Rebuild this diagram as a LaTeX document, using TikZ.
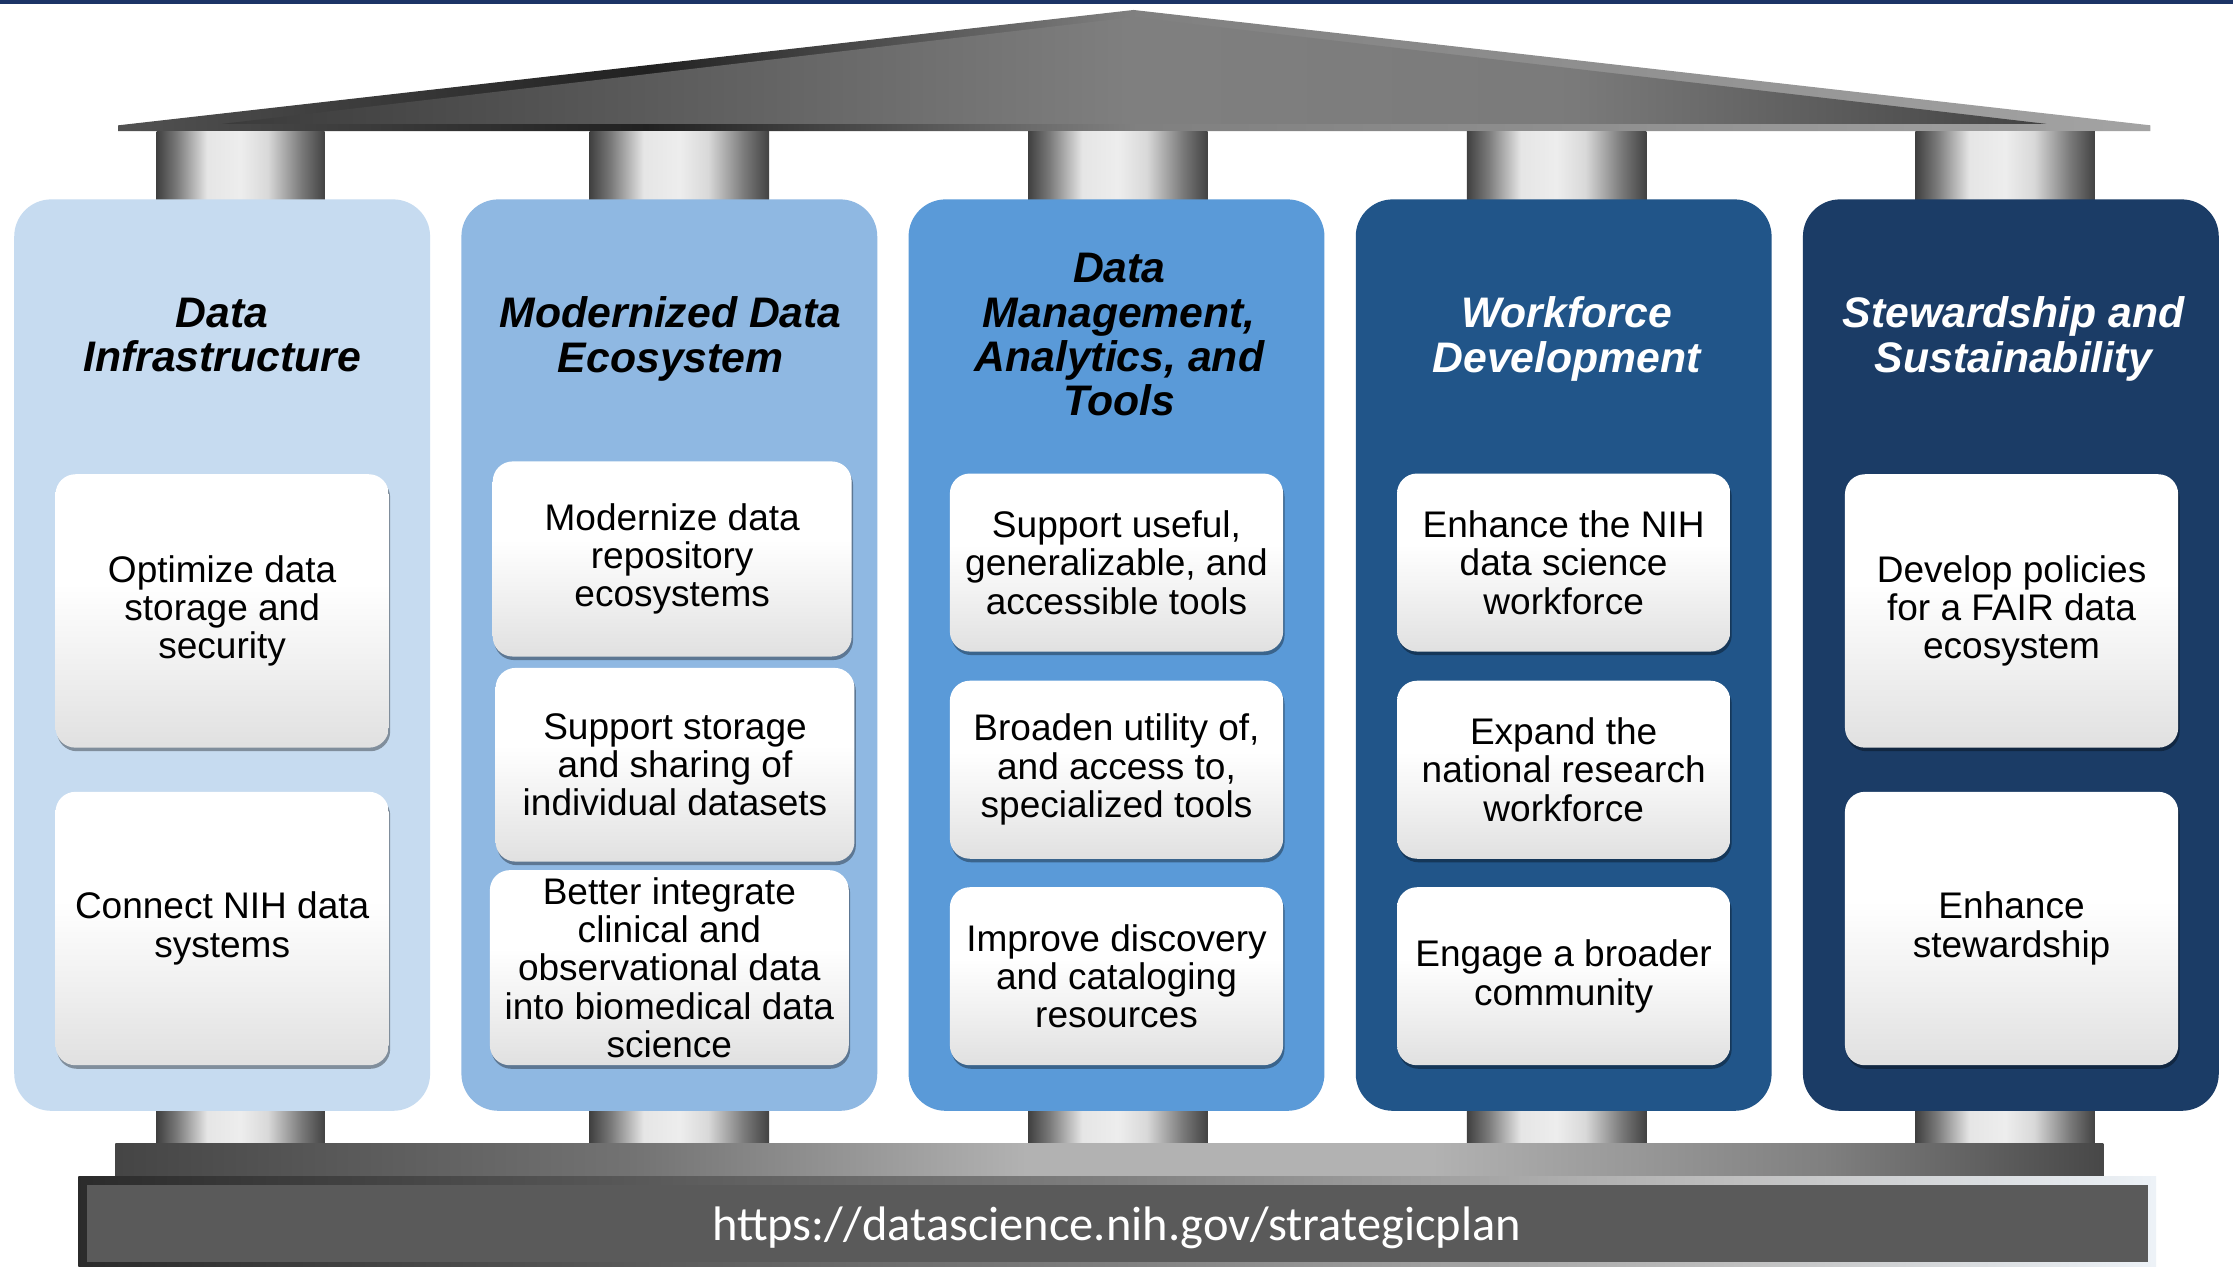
\documentclass[tikz,border=0pt]{standalone}
\usepackage{fontspec}
\setmainfont{Liberation Sans}
\newfontfamily\urlfont{Carlito}
\usetikzlibrary{shadows}

\definecolor{panelA}{HTML}{C6DBF0}
\definecolor{panelB}{HTML}{8FB8E2}
\definecolor{panelC}{HTML}{5A9AD8}
\definecolor{panelD}{HTML}{215589}
\definecolor{panelE}{HTML}{1B3C66}
\definecolor{navy}{HTML}{1C3466}
\definecolor{basefill}{HTML}{5A5A5A}

% column shaft: dark edges, bright highlight left of centre
\pgfdeclarehorizontalshading{pillarshade}{100bp}{
  gray(0bp)=(0.25); gray(25bp)=(0.25); gray(31bp)=(0.48); gray(40bp)=(0.9);
  gray(50bp)=(0.93); gray(58bp)=(0.85); gray(68bp)=(0.48); gray(75bp)=(0.26); gray(100bp)=(0.26)}
% roof rim and inner gable face
\pgfdeclarehorizontalshading{roofrim}{100bp}{
  gray(0bp)=(0.32); gray(25bp)=(0.32); gray(38bp)=(0.13); gray(50bp)=(0.5);
  gray(75bp)=(0.64); gray(100bp)=(0.64)}
\pgfdeclarehorizontalshading{roofface}{100bp}{
  gray(0bp)=(0.23); gray(25bp)=(0.23); gray(50bp)=(0.5); gray(62bp)=(0.48);
  gray(75bp)=(0.26); gray(100bp)=(0.26)}
% stylobate slab and plinth frame
\pgfdeclarehorizontalshading{slabshade}{100bp}{
  gray(0bp)=(0.27); gray(25bp)=(0.27); gray(38bp)=(0.45); gray(48bp)=(0.7);
  gray(58bp)=(0.7); gray(68bp)=(0.5); gray(75bp)=(0.28); gray(100bp)=(0.28)}
\pgfdeclarehorizontalshading{plinthshade}{100bp}{
  gray(0bp)=(0.17); gray(25bp)=(0.17); gray(50bp)=(0.5); gray(65bp)=(0.75);
  rgb(75bp)=(0.93,0.95,0.97); rgb(100bp)=(0.93,0.95,0.97)}
% card face: white top, soft grey towards the bottom
\pgfdeclareverticalshading{cardfill}{100bp}{
  gray(0bp)=(0.88); gray(25bp)=(0.88); gray(42bp)=(0.95); gray(55bp)=(1);
  gray(75bp)=(1); gray(100bp)=(1)}

\begin{document}
\begin{tikzpicture}[x=1pt,y=-1pt,
  panel/.style={rectangle, rounded corners=26pt, minimum width=292pt,
    minimum height=640pt, inner sep=0pt, draw=none},
  heading/.style={align=center, inner sep=0pt,
    font=\fontsize{30}{31}\selectfont\bfseries\itshape},
  card/.style={rectangle, rounded corners=14pt, inner sep=0pt, align=center,
    shading=cardfill, font=\fontsize{26}{27}\selectfont,
    drop shadow={shadow xshift=1pt, shadow yshift=-2.5pt, opacity=0.35, fill=black}},
  tallcard/.style={card, minimum width=234pt, minimum height=192pt},
  shortcard/.style={card, minimum width=234pt, minimum height=125pt},
  widecard/.style={card, minimum width=252pt, minimum height=137pt},
  shaft/.style={shading=pillarshade, draw=none},
]
\useasboundingbox (0,0) rectangle (1568,889);
\fill[white] (0,0) rectangle (1568,889);
\fill[navy] (0,0) rectangle (1568,3);

% roof
\shade[shading=roofrim] (83,88) -- (796,7) -- (1510,88) -- (1510,92) -- (83,92) -- cycle;
\shade[shading=roofface] (156,87) -- (796,12) -- (1437,87) -- cycle;

% column shafts, upper and lower
\foreach \a/\b in {110/228, 414/540, 722/848, 1030/1156, 1345/1471}{
  \shade[shaft] (\a,92) rectangle (\b,142);
  \shade[shaft] (\a,778) rectangle (\b,804);
}

% base
\shade[shading=slabshade] (81,803) rectangle (1477,826);
\shade[shading=plinthshade] (55,826) rectangle (1514,889);
\fill[basefill] (61,832) rectangle (1508,886);
\node[text=white, inner sep=0pt, font=\urlfont\fontsize{34}{36}\selectfont] (url) at (784,862)
  {https://datascience.nih.gov/strategicplan};

% pillars
\node[panel, fill=panelA] (p1) at (156,460) {};
\node[panel, fill=panelB] (p2) at (470,460) {};
\node[panel, fill=panelC] (p3) at (784,460) {};
\node[panel, fill=panelD] (p4) at (1098,460) {};
\node[panel, fill=panelE] (p5) at (1412,460) {};

\node[heading] (t1) at (156,235) {Data\\Infrastructure};
\node[heading] (t2) at (471,238) {Modernized Data\\Ecosystem};
\node[heading] (t3) at (786,235) {Data\\Management,\\Analytics, and\\Tools};
\node[heading, text=white] (t4) at (1100,238) {Workforce\\Development};
\node[heading, text=white] (t5) at (1414,238) {Stewardship and\\Sustainability};

% goals
\node[tallcard] (c11) at (156,429) {Optimize data\\storage and\\security};
\node[tallcard] (c12) at (156,652) {Connect NIH data\\systems};

\node[widecard] (c21) at (472,392.5) {Modernize data\\repository\\ecosystems};
\node[widecard, minimum height=136pt] (c22) at (474,537) {Support storage\\and sharing of\\individual datasets};
\node[widecard] (c23) at (470,679.5) {Better integrate\\clinical and\\observational data\\into biomedical data\\science};

\node[shortcard] (c31) at (784,395) {Support useful,\\generalizable, and\\accessible tools};
\node[shortcard] (c32) at (784,540.5) {Broaden utility of,\\and access to,\\specialized tools};
\node[shortcard] (c33) at (784,685.5) {Improve discovery\\and cataloging\\resources};

\node[shortcard] (c41) at (1098,395) {Enhance the NIH\\data science\\workforce};
\node[shortcard] (c42) at (1098,540.5) {Expand the\\national research\\workforce};
\node[shortcard] (c43) at (1098,685.5) {Engage a broader\\community};

\node[tallcard] (c51) at (1412.5,429) {Develop policies\\for a FAIR data\\ecosystem};
\node[tallcard] (c52) at (1412.5,652) {Enhance\\stewardship};
\end{tikzpicture}
\end{document}
